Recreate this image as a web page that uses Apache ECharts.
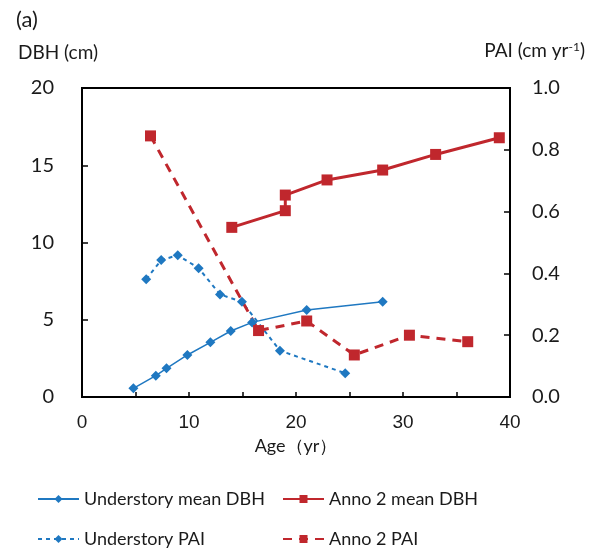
<!DOCTYPE html>
<html>
<head>
    <meta charset="utf-8">
    <title>DBH and PAI by age</title>
    <script src="https://cdn.jsdelivr.net/npm/echarts@6/dist/echarts.min.js"></script>
</head>
<body style="margin:0">
    <div id="main" style="width:594px;height:554px;"></div>
    <script>
        // [age, value]
        var understoryDBH = [[4.8, 0.56], [6.9, 1.38], [7.9, 1.86], [9.85, 2.72], [12.0, 3.54],
            [13.9, 4.27], [15.9, 4.83], [21.0, 5.63], [28.1, 6.17]];
        var annoDBH = [[14.0, 10.98], [19.0, 12.06], [19.0, 13.07], [22.9, 14.05], [28.1, 14.69],
            [33.05, 15.7], [39.0, 16.78]];
        var understoryPAI = [[6.0, 0.381], [7.4, 0.443], [8.95, 0.459], [10.9, 0.417], [12.9, 0.332],
            [14.95, 0.308], [18.5, 0.150], [24.6, 0.077]];
        var annoPAI = [[6.4, 0.845], [16.5, 0.215], [21.0, 0.246], [25.45, 0.136], [30.6, 0.20],
            [36.05, 0.179]];
        var seriesNames = ['Understory mean DBH', 'Anno 2 mean DBH', 'Understory PAI', 'Anno 2 PAI'];

        var BLUE = '#1f78c1';
        var RED = '#c0272d';
        var TEXT = '#1a1a1a';
        var FONT = 'Lato';

        var chart = echarts.init(document.getElementById('main'));

        function legendAt(name, left, top) {
            return {
                data: [name],
                left: left,
                top: top,
                itemWidth: 41,
                itemHeight: 10,
                textStyle: { fontFamily: FONT, fontSize: 18, color: TEXT }
            };
        }

        var option = {
            animation: false,
            grid: {
                left: 82, right: 84, top: 88, bottom: 157,
                show: true, borderColor: '#000', borderWidth: 2
            },
            legend: [
                legendAt(seriesNames[0], 32, 485),
                legendAt(seriesNames[1], 277, 485),
                legendAt(seriesNames[2], 32, 525),
                legendAt(seriesNames[3], 277, 525)
            ],
            graphic: [
                { type: 'text', left: 16, top: 9, style: { text: '(a)', font: '22px Lato', fill: TEXT } },
                { type: 'text', left: 18, top: 43, style: { text: 'DBH (cm)', font: '19px Lato', fill: TEXT } },
                {
                    type: 'text', right: 9, top: 41,
                    style: {
                        text: '{a|PAI (cm yr}{s|-1}{a|)}',
                        rich: {
                            a: { fontFamily: FONT, fontSize: 19, fill: TEXT },
                            s: { fontFamily: FONT, fontSize: 12, fill: TEXT, verticalAlign: 'top', padding: [0, 0, 8, 0] }
                        }
                    }
                }
            ],
            xAxis: {
                type: 'value',
                min: 0, max: 40, interval: 5,
                name: 'Age（yr）',
                nameLocation: 'middle',
                nameGap: 40,
                nameTextStyle: { fontFamily: FONT, fontSize: 18, color: TEXT },
                axisLine: { lineStyle: { color: '#000', width: 2 } },
                axisTick: { inside: true, length: 5, lineStyle: { color: '#000', width: 1.5 } },
                splitLine: { show: false },
                axisLabel: {
                    fontFamily: 'Liberation Sans', fontSize: 19, color: TEXT, margin: 16,
                    formatter: function (v) { return v % 10 === 0 ? v : ''; }
                }
            },
            yAxis: [
                {
                    type: 'value',
                    min: 0, max: 20, interval: 5,
                    axisLine: { show: true, lineStyle: { color: '#000', width: 2 } },
                    axisTick: { show: true, inside: true, length: 6, lineStyle: { color: '#000', width: 1.5 } },
                    splitLine: { show: false },
                    axisLabel: { fontFamily: FONT, fontSize: 20, color: TEXT, margin: 28 }
                },
                {
                    type: 'value',
                    min: 0, max: 1, interval: 0.2,
                    position: 'right',
                    axisLine: { show: true, lineStyle: { color: '#000', width: 2 } },
                    axisTick: { show: true, inside: true, length: 6, lineStyle: { color: '#000', width: 1.5 } },
                    splitLine: { show: false },
                    axisLabel: {
                        fontFamily: FONT, fontSize: 20, color: TEXT, margin: 22,
                        formatter: function (v) { return v.toFixed(1); }
                    }
                }
            ],
            series: [
                {
                    name: seriesNames[0], type: 'line', yAxisIndex: 0,
                    data: understoryDBH,
                    symbol: 'diamond', symbolSize: 10,
                    itemStyle: { color: BLUE },
                    lineStyle: { color: BLUE, width: 1.5 }
                },
                {
                    name: seriesNames[1], type: 'line', yAxisIndex: 0,
                    data: annoDBH,
                    symbol: 'rect', symbolSize: 11,
                    itemStyle: { color: RED },
                    lineStyle: { color: RED, width: 3 }
                },
                {
                    name: seriesNames[2], type: 'line', yAxisIndex: 1,
                    data: understoryPAI,
                    symbol: 'diamond', symbolSize: 10,
                    itemStyle: { color: BLUE },
                    lineStyle: { color: BLUE, width: 2, type: [4, 4] }
                },
                {
                    name: seriesNames[3], type: 'line', yAxisIndex: 1,
                    data: annoPAI,
                    symbol: 'rect', symbolSize: 11,
                    itemStyle: { color: RED },
                    lineStyle: { color: RED, width: 3, type: [9, 7] }
                }
            ]
        };

        chart.setOption(option);
    </script>
</body>
</html>
